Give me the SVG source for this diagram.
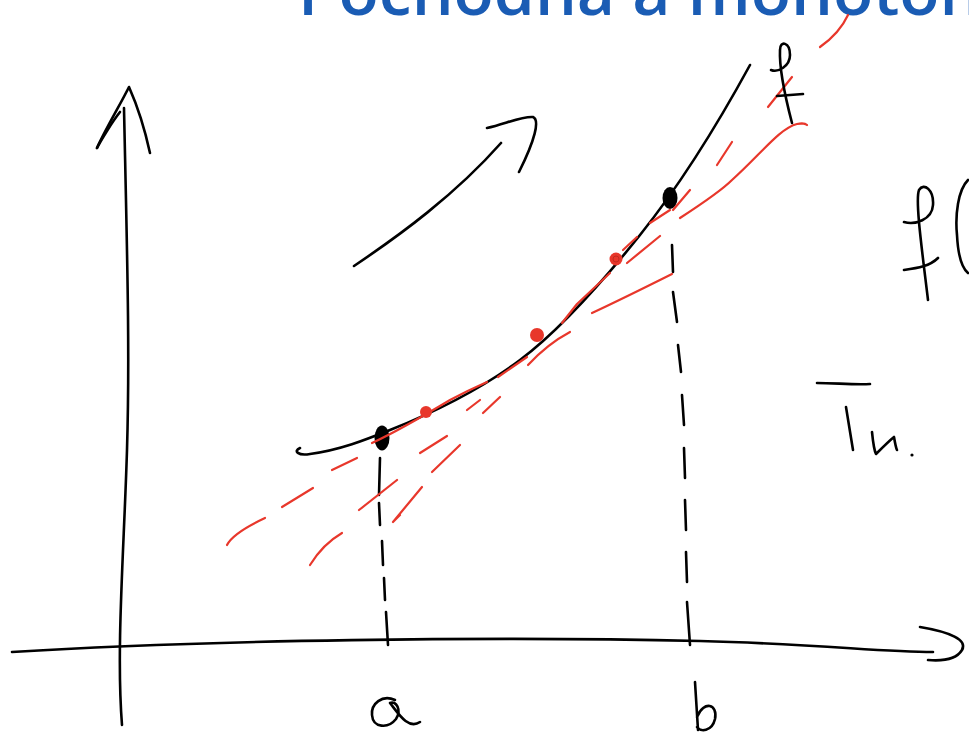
<svg xmlns="http://www.w3.org/2000/svg" width="969" height="733" viewBox="0 0 969 733">
<style>
.k{fill:none;stroke:#000;stroke-width:2.6;stroke-linecap:round;stroke-linejoin:round}
.r{fill:none;stroke:#e8372b;stroke-width:2.2;stroke-linecap:round;stroke-linejoin:round}
.t{font-family:"Open Sans","Liberation Sans",sans-serif;font-weight:600;fill:#1a5cb4}
</style>
<rect width="969" height="733" fill="#fff"/>
<text class="t" x="298" y="15" font-size="66">Pochodna a monoton</text>
<g id="axes">
<path class="k" d="M124,108 C127,250 130,350 127,450 C124,550 116,650 122,725"/>
<path class="k" d="M97,148 C105,130 120,105 129,87 C137,105 145,130 150,153"/>
<path class="k" d="M97,148 C100,142 112,122 120,112"/>
<path class="k" d="M12,652 C200,640 500,636 700,641 C820,644 880,652 933,652"/>
<path class="k" d="M920,627 C950,632 968,640 962,650 C956,660 940,661 928,660"/>
</g>
<g id="dashes">
<path class="k" d="M380,458 L379,495 M379,503 L380,525 M382,541 L383,565 M384,578 L385,600 M386,612 L388,645"/>
<path class="k" d="M672,245 L673,272 M673,292 L677,322 M678,345 L681,372 M682,395 L684,425 M684,448 L685,478 M685,500 L686,530 M686,552 L687,582 M687,602 L690,645"/>
</g>
<g id="curve">
<path class="k" d="M300,448 C293,451 298,456 310,454 C340,450 365,440 390,430 C430,414 480,390 520,360 C560,330 600,285 640,235 C680,185 720,120 750,65"/>
<ellipse cx="382" cy="438" rx="7.5" ry="12.5" fill="#000"/>
<ellipse cx="670" cy="198" rx="7.5" ry="11" fill="#000"/>
</g>
<g id="tangents">
<path class="r" d="M227,545 C232,535 250,525 265,518"/>
<path class="r" d="M282,507 L313,488"/>
<path class="r" d="M332,470 L357,458"/>
<path class="r" d="M310,565 C318,552 330,540 342,533"/>
<path class="r" d="M359,510 L397,480"/>
<path class="r" d="M393,522 L422,487 M393,522 L400,515"/>
<path class="r" d="M432,472 L460,445"/>
<path class="r" d="M420,453 L447,436"/>
<path class="r" d="M372,443 C400,430 430,412 450,400 C465,392 478,386 487,382"/>
<path class="r" d="M467,410 L480,400"/>
<path class="r" d="M483,413 L500,397"/>
<path class="r" d="M498,377 L527,357"/>
<path class="r" d="M528,365 C540,352 555,340 570,332"/>
<path class="r" d="M562,323 L577,304 L610,273"/>
<path class="r" d="M592,313 C620,300 650,285 672,274"/>
<path class="r" d="M627,263 L660,236"/>
<path class="r" d="M623,250 L637,237"/>
<path class="r" d="M650,223 L670,210"/>
<path class="r" d="M673,210 L690,190"/>
<path class="r" d="M680,218 C700,205 720,192 732,180 C760,155 780,128 797,124 C802,123 806,124 807,125"/>
<path class="r" d="M717,165 L732,142"/>
<path class="r" d="M768,107 L792,77"/>
<path class="r" d="M820,47 C830,40 842,28 848,15"/>
<circle cx="426" cy="412" r="6" fill="#e8372b"/>
<circle cx="537" cy="335" r="7" fill="#e8372b"/>
<circle cx="616" cy="259" r="6.5" fill="#e8372b"/>
<circle cx="616" cy="259" r="3" fill="none" stroke="#c22a20" stroke-width="1"/>
</g>
<g id="arrow">
<path class="k" d="M354,266 C400,235 455,195 501,143"/>
<path class="k" d="M487,128 C505,124 522,116 533,117 C540,120 535,140 519,172"/>
</g>
<g id="labels">
<path class="k" d="M771,70 C778,73 790,66 790,55 C790,42 780,40 780,50 C779,70 786,100 792,123 M777,96 L803,94"/>
<path class="k" d="M904,222 C915,225 932,220 933,205 C934,190 924,182 919,190 C915,200 922,250 928,300 M904,270 C918,268 930,266 938,258"/>
<path class="k" d="M968,180 C958,190 955,215 957,235 C958,255 962,268 968,273"/>
<path class="k" d="M817,383 C835,383 855,385 870,384 M846,407 L853,450"/>
<path class="k" d="M872,432 C873,442 874,450 876,454 C882,448 889,441 894,437 C895,443 896,448 897,450"/>
<circle cx="912" cy="455" r="1.6" fill="#000"/>
<path class="k" d="M395,700 C382,694 371,704 372,715 C373,728 388,729 396,719 C402,710 396,700 390,703 C398,713 408,730 420,722"/>
<path class="k" d="M695,682 C696,700 697,715 698,730 M697,717 C704,700 718,704 715,719 C712,732 700,732 697,727"/>
</g>
</svg>
